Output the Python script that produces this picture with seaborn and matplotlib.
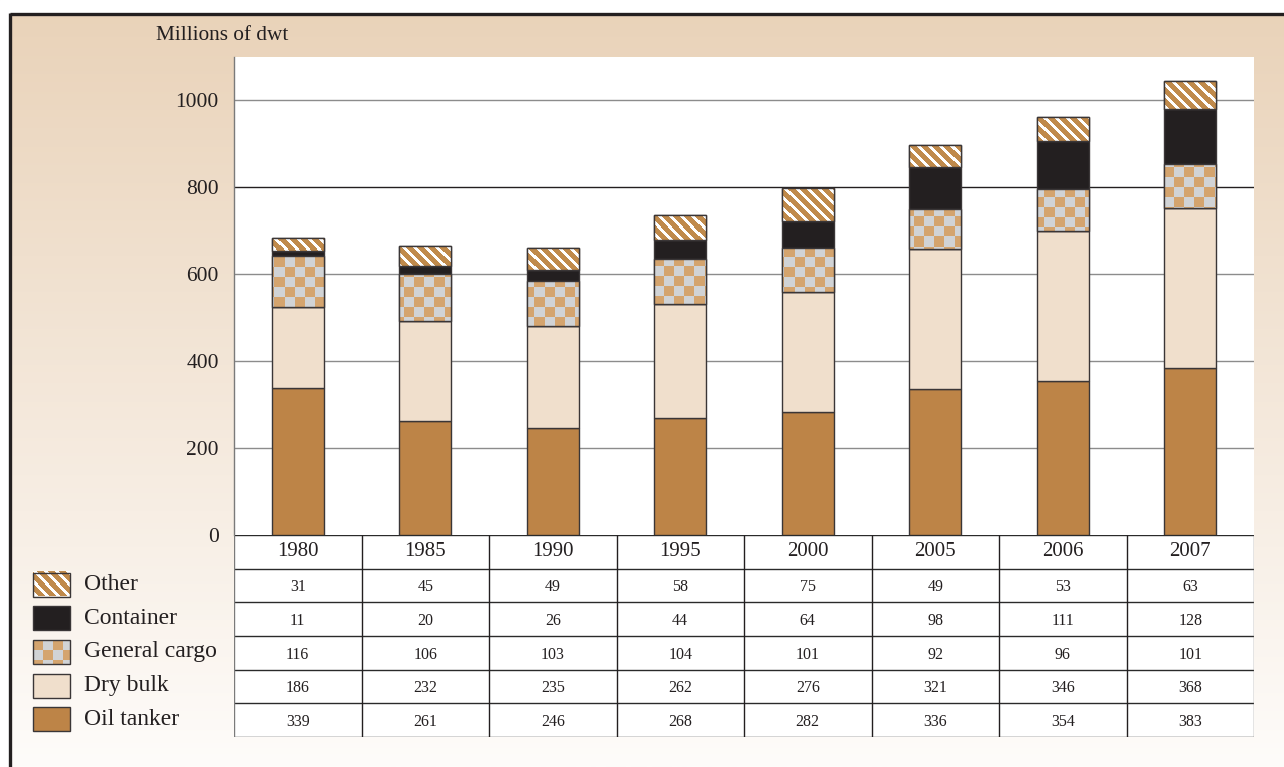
import numpy as np
import pandas as pd
import matplotlib
matplotlib.use("Agg")
import matplotlib.pyplot as plt
import seaborn as sns
from matplotlib.patches import Rectangle
from matplotlib.colors import to_rgb

# ---------------- data ----------------
years = ["1980", "1985", "1990", "1995", "2000", "2005", "2006", "2007"]
oil_tanker = [339, 261, 246, 268, 282, 336, 354, 383]
dry_bulk = [186, 232, 235, 262, 276, 321, 346, 368]
general_cargo = [116, 106, 103, 104, 101, 92, 96, 101]
container = [11, 20, 26, 44, 64, 98, 111, 128]
other = [31, 45, 49, 58, 75, 49, 53, 63]
y_ticks = [0, 200, 400, 600, 800, 1000]
y_label = "Millions of dwt"
legend_names = ["Other", "Container", "General cargo", "Dry bulk", "Oil tanker"]

# ---------------- styles ----------------
W, H = 1284, 767
OIL = "#BD8447"
DRY = "#F0DFCC"
CONT = "#231F20"
STRIPE_TAN = "#C08A4B"
CHK_TAN = "#D4A46E"
CHK_GRAY = "#D1D3D5"
EDGE = "#3A3637"
TXT = "#231F20"
YMAX = 1099

sns.set_theme(style="white")
plt.rcParams["font.family"] = ["Liberation Serif", "DejaVu Serif"]

fig = plt.figure(figsize=(W / 100, H / 100), dpi=100)


def fx(px):
    return px / W


def fy(py):
    return 1 - py / H


def stripes(h, w, period=11, white=4):
    i, j = np.indices((h, w))
    img = np.empty((h, w, 3))
    img[:] = to_rgb(STRIPE_TAN)
    img[((j - i) % period) < white] = (1, 1, 1)
    return img


def checker(h, w, size=10):
    i, j = np.indices((h, w))
    img = np.empty((h, w, 3))
    img[:] = to_rgb(CHK_GRAY)
    img[((i // size + j // size) % 2) == 0] = to_rgb(CHK_TAN)
    return img


# ---------------- background ----------------
bg = fig.add_axes([0, 0, 1, 1], zorder=-10)
bg.set_xlim(0, W)
bg.set_ylim(H, 0)
bg.set_axis_off()
top = np.array(to_rgb("#E9D2B8"))
bot = np.array(to_rgb("#FEFCFA"))
t = np.linspace(0, 1, 400)[:, None, None]
grad = top[None, None, :] * (1 - t) + bot[None, None, :] * t
bg.imshow(grad, extent=(0, W, H, 0), aspect="auto", origin="upper", zorder=0)
bg.add_patch(Rectangle((0, 0), W, 14, color="white", zorder=1))
bg.add_patch(Rectangle((0, 0), 10, H, color="white", zorder=1))
bg.plot([10, W], [14, 14], color=CONT, lw=2.4, zorder=2, solid_capstyle="butt")
bg.plot([10, 10], [13, H], color=CONT, lw=2.4, zorder=2, solid_capstyle="butt")
bg.set_xlim(0, W)
bg.set_ylim(H, 0)

fig.text(fx(222), fy(35), y_label, ha="center", va="center", fontsize=15.3, color=TXT)

# ---------------- main chart ----------------
ax = fig.add_axes([fx(234), fy(535), (1254 - 234) / W, (535 - 57) / H])
ax.set_facecolor("white")

for v in [200, 400, 600, 1000]:
    ax.axhline(v, color="#8C8C8C", lw=1.0, zorder=1)
ax.axhline(800, color=CONT, lw=1.0, zorder=1)

layers = [
    (oil_tanker, OIL, None),
    (dry_bulk, DRY, None),
    (general_cargo, CHK_TAN, "checker"),
    (container, CONT, None),
    (other, STRIPE_TAN, "stripes"),
]
bottom = np.zeros(len(years))
ax_h, ax_w = 478, 1020
stripe_img = stripes(ax_h, ax_w)
checker_img = checker(ax_h, ax_w)
for vals, col, pattern in layers:
    n0 = len(ax.patches)
    sns.barplot(x=years, y=vals, bottom=bottom, order=years, width=0.41,
                color=col, saturation=1, edgecolor=EDGE, linewidth=1.0,
                ax=ax, zorder=3)
    new = ax.patches[n0:]
    if pattern is not None:
        img = stripe_img if pattern == "stripes" else checker_img
        for p in new:
            im = ax.imshow(img, extent=(-0.5, 7.5, 0, YMAX), origin="upper",
                           aspect="auto", interpolation="nearest", zorder=3.5)
            im.set_clip_path(p)
            ax.add_patch(Rectangle(p.get_xy(), p.get_width(), p.get_height(),
                                   fill=False, ec=EDGE, lw=1.0, zorder=4))
    bottom = bottom + np.array(vals)

ax.set_xlim(-0.5, 7.5)
ax.set_ylim(0, YMAX)
ax.set_yticks(y_ticks)
ax.set_yticklabels([str(v) for v in y_ticks], fontsize=15.5, color=TXT)
ax.tick_params(axis="y", length=0, pad=11)
ax.tick_params(axis="x", length=0, labelbottom=False)
ax.set_xlabel("")
ax.set_ylabel("")
for s in ["top", "right", "bottom"]:
    ax.spines[s].set_visible(False)
ax.spines["left"].set_color("#7A7A7A")
ax.spines["left"].set_linewidth(1.0)
ax.grid(False)

# ---------------- table ----------------
tax = fig.add_axes([fx(234), fy(737), (1254 - 234) / W, (737 - 535) / H])
tax.set_facecolor("white")
tax.set_xlim(0, 8)
tax.set_ylim(6, 0)
tax.set_xticks([])
tax.set_yticks([])
for s in tax.spines.values():
    s.set_visible(False)
tax.hlines(range(7), 0, 8, color="#2A2A2A", lw=1.0)
tax.vlines(range(1, 8), 0, 6, color=CONT, lw=1.0)
tax.vlines([0, 8], 0, 6, color="#7A7A7A", lw=1.0)
rows = [other, container, general_cargo, dry_bulk, oil_tanker]
for c, yr in enumerate(years):
    tax.text(c + 0.5, 0.5, yr, ha="center", va="center", fontsize=15, color=TXT)
    for r, vals in enumerate(rows):
        tax.text(c + 0.5, r + 1.55, str(vals[c]), ha="center", va="center",
                 fontsize=11.5, color=TXT)

# ---------------- legend ----------------
lax = fig.add_axes([0, fy(737), fx(234), (737 - 535) / H])
lax.set_xlim(0, 234)
lax.set_ylim(202, 0)
lax.set_axis_off()
leg_colors = [STRIPE_TAN, CONT, CHK_TAN, DRY, OIL]
leg_pat = ["stripes", None, "checker", None, None]
rh = 202 / 6
for k, name in enumerate(legend_names):
    yc = rh * (k + 1.5) - 1
    x0, w, h = 33, 37, 24
    if leg_pat[k] is None:
        lax.add_patch(Rectangle((x0, yc - h / 2), w, h, fc=leg_colors[k], ec=EDGE, lw=1.0))
    else:
        img = stripes(h, w) if leg_pat[k] == "stripes" else checker(h, w)
        lax.imshow(img, extent=(x0, x0 + w, yc + h / 2, yc - h / 2), origin="upper",
                   aspect="auto", interpolation="nearest")
        lax.add_patch(Rectangle((x0, yc - h / 2), w, h, fill=False, ec=EDGE, lw=1.0))
    lax.text(84, yc, name, ha="left", va="center", fontsize=17, color=TXT)
lax.set_xlim(0, 234)
lax.set_ylim(202, 0)

fig.savefig("out.png", dpi=100)
